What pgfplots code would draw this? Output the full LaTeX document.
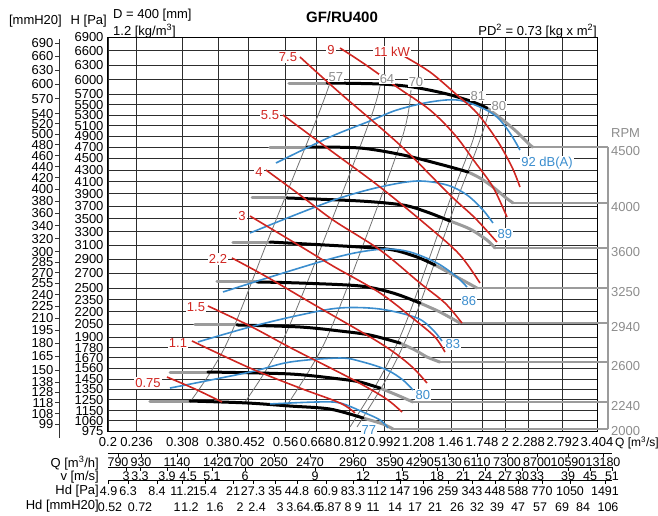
\documentclass[border=0pt]{standalone}
\usepackage{fontspec}
\setmainfont{Liberation Sans}
\usepackage{pgfplots}
\pgfplotsset{compat=1.18}
\definecolor{redc}{RGB}{208,38,33}
\definecolor{bluec}{RGB}{58,141,206}
\definecolor{greyc}{RGB}{155,155,155}
\definecolor{thing}{RGB}{115,115,115}
\definecolor{gridc}{RGB}{45,45,45}
\definecolor{greytxt}{RGB}{140,140,140}
\pgfplotsset{/pgf/number format/assume math mode=true}
\pgfplotsset{
  sqrty/.style={y coord trafo/.code={\pgfmathparse{sqrt(##1)}},
                y coord inv trafo/.code={\pgfmathparse{(##1)*(##1)}}},
  fanb/.style={black, line width=3pt, smooth, tension=0.5, line cap=round},
  fang/.style={greyc, line width=3pt, smooth, tension=0.5, line cap=round},
  fanf/.style={greyc, line width=2.3pt},
  redl/.style={redc, line width=1.6pt, smooth, tension=0.55},
  bluel/.style={bluec, line width=1.6pt, smooth, tension=0.55},
  thinl/.style={thing, line width=0.8pt, smooth, tension=0.55},
}
\tikzset{rlab/.style={text=redc, fill=white, inner sep=1pt, font=\fontsize{13}{13}\selectfont},
  blab/.style={text=bluec, fill=white, inner sep=1pt, font=\fontsize{13}{13}\selectfont},
  glab/.style={text=greytxt, fill=white, inner sep=0.6pt, font=\fontsize{13}{13}\selectfont},
  plab/.style={text=greytxt, anchor=west, inner sep=0pt, font=\fontsize{13}{13}\selectfont}}
\begin{document}
\fontsize{13}{15}\selectfont
\begin{tikzpicture}[x=1pt,y=1pt]
\useasboundingbox (0,0) rectangle (658,-515);
% left mmH2O axis
\begin{axis}[at={(59pt,-438pt)}, anchor=south west, scale only axis, width=10pt, height=399pt,
  sqrty, ymin=87.4, ymax=699, xmin=0, xmax=1,
  axis y line=left, axis x line=none,
  axis line style={-, black!80, line width=0.9pt},
  ytick align=outside, major tick length=4pt, ytick style={black!80, line width=0.8pt},
  ytick={99,108,118,128,138,150,165,180,195,210,225,240,255,270,285,300,320,340,360,380,400,420,440,460,480,500,520,540,570,600,630,660,690},
  yticklabels={99,108,118,128,138,150,165,180,195,210,225,240,255,270,285,300,320,340,360,380,400,420,440,460,480,500,520,540,570,600,630,660,690},
  yticklabel style={font=\fontsize{13}{13}\selectfont, inner sep=1.5pt}]
\addplot[draw=none] coordinates {(0.5,300)};
\end{axis}
% main axis
\begin{axis}[at={(108pt,-431pt)}, anchor=south west, scale only axis, width=489pt, height=394pt,
  xmode=log, xmin=0.2, xmax=3.404, sqrty, ymin=975, ymax=6900,
  xtick={0.2,0.236,0.308,0.38,0.452,0.56,0.668,0.812,0.992,1.208,1.46,1.748,2,2.288,2.792,3.404},
  xticklabels={0.2,0.236,0.308,0.38,0.452,0.56,0.668,0.812,0.992,1.208,1.46,1.748,2,2.288,2.792,3.404},
  minor xtick={},
  ytick={975,1060,1150,1250,1350,1450,1560,1670,1780,1900,2050,2200,2350,2500,2700,2900,3100,3300,3500,3700,3900,4100,4300,4500,4700,4900,5100,5300,5500,5700,6000,6300,6600,6900},
  yticklabels={975,1060,1150,1250,1350,1450,1560,1670,1780,1900,2050,2200,2350,2500,2700,2900,3100,3300,3500,3700,3900,4100,4300,4500,4700,4900,5100,5300,5500,5700,6000,6300,6600,6900},
  grid=major, major grid style={gridc, line width=0.8pt},
  major tick length=0pt,
  tick label style={font=\fontsize{13}{13}\selectfont},
  xticklabel style={yshift=-2pt},
  axis line style={black, line width=1pt},
  clip=false]
% efficiency lines
\addplot[thinl] coordinates {(0.3217,1228) (0.3963,1810) (0.5114,3251) (0.6716,5243) (0.7283,5992)};
\addplot[thinl] coordinates {(0.4424,1228) (0.5483,1844) (0.7075,3251) (0.9130,5205) (0.9675,5871)};
\addplot[thinl] coordinates {(0.5644,1200) (0.7034,1844) (0.8869,3176) (1.1055,4924) (1.1579,5790)};
\addplot[thinl] coordinates {(0.8131,1008) (0.9675,1459) (1.1055,1982) (1.2778,2858) (1.4516,3797) (1.6585,4832) (1.7473,5533)};
\addplot[thinl] coordinates {(0.8468,1008) (1.0076,1459) (1.1512,1982) (1.3307,2858) (1.5117,3797) (1.7272,4832) (1.8303,5435)};
% RPM bracket
\addplot[fanf] coordinates {(3.6267,4705) (3.6267,991.5)};
% fan curves 4500
\addplot[fang] coordinates {(0.571,5931) (0.712,5931)};
\addplot[fang] coordinates {(1.799,5435) (1.973,5205) (2.140,4980) (2.308,4741) (2.348,4705)};
\addplot[fanf] coordinates {(2.348,4705) (3.6267,4705)};
\addplot[fanb] coordinates {(0.712,5931) (0.967,5911) (1.171,5850) (1.427,5710) (1.659,5552) (1.799,5435)};
% 4000
\addplot[fang] coordinates {(0.5114,4705) (0.6337,4705)};
\addplot[fang] coordinates {(1.6112,4265) (1.7272,4162) (1.8624,4011) (1.9965,3846) (2.0912,3749)};
\addplot[fanf] coordinates {(2.0912,3749) (3.6267,3749)};
\addplot[fanb] coordinates {(0.6337,4705) (0.8616,4687) (1.1055,4562) (1.3939,4386) (1.6112,4265)};
% 3600
\addplot[fang] coordinates {(0.4608,3830) (0.5644,3830)};
\addplot[fang] coordinates {(1.4516,3464) (1.6300,3341) (1.7987,3176) (1.8841,3059)};
\addplot[fanf] coordinates {(1.8841,3059) (3.6267,3059)};
\addplot[fanb] coordinates {(0.5644,3830) (0.8616,3781) (1.1055,3716) (1.2704,3605) (1.4516,3464)};
% 3250
\addplot[fang] coordinates {(0.4127,3146) (0.5114,3146)};
\addplot[fang] coordinates {(1.3307,2816) (1.5117,2651) (1.6974,2504)};
\addplot[fanf] coordinates {(1.6974,2504) (3.6267,2504)};
\addplot[fanb] coordinates {(0.5114,3146) (0.8616,3073) (1.0432,3030) (1.1989,2929) (1.3307,2816)};
% 2940
\addplot[fang] coordinates {(0.3762,2584) (0.4743,2584)};
\addplot[fang] coordinates {(1.2199,2310) (1.3698,2198) (1.5382,2064)};
\addplot[fanf] coordinates {(1.5382,2064) (3.6267,2064)};
\addplot[fanb] coordinates {(0.4743,2584) (0.6085,2570) (0.8616,2531) (1.0432,2439) (1.2199,2310)};
% 2600
\addplot[fang] coordinates {(0.3311,2041) (0.4224,2041)};
\addplot[fang] coordinates {(1.0864,1832) (1.1851,1754) (1.2704,1678) (1.3698,1624)};
\addplot[fanf] coordinates {(1.3698,1624) (3.6267,1624)};
\addplot[fanb] coordinates {(0.4224,2041) (0.6085,2017) (0.7673,1970) (0.9130,1923) (1.0864,1832)};
% 2240
\addplot[fang] coordinates {(0.2865,1520) (0.3570,1520)};
\addplot[fang] coordinates {(0.9675,1360) (1.0677,1293) (1.1714,1228)};
\addplot[fanf] coordinates {(1.1714,1228) (3.6267,1228)};
\addplot[fanb] coordinates {(0.3570,1520) (0.5743,1500) (0.7673,1449) (0.8616,1419) (0.9675,1360)};
% 2000
\addplot[fang] coordinates {(0.2551,1237) (0.3217,1237)};
\addplot[fang] coordinates {(0.8767,1085) (0.9845,1033) (1.0432,991.5)};
\addplot[fanf] coordinates {(1.0432,991.5) (3.6267,991.5)};
\addplot[fanb] coordinates {(0.3217,1237) (0.4476,1219) (0.5743,1191) (0.7241,1164) (0.8767,1085)};
% noise curves
\addplot[bluel] coordinates {(0.5295,4421) (0.7241,4887) (0.9130,5186) (1.0677,5397) (1.2927,5552) (1.5117,5592) (1.7272,5455) (1.9060,5262) (2.0552,4961) (2.1778,4651)};
\addplot[bluel] coordinates {(0.4555,3281) (0.6085,3589) (0.7673,3830) (0.9675,4011) (1.1989,4111) (1.4265,4044) (1.6019,3879) (1.7575,3637) (1.8624,3433)};
\addplot[bluel] coordinates {(0.3895,2452) (0.5419,2692) (0.7241,2901) (0.8616,3001) (1.0076,3044) (1.1512,3001) (1.3462,2844) (1.5117,2651) (1.6019,2517)};
\addplot[bluel] coordinates {(0.3369,1844) (0.4555,2017) (0.6085,2161) (0.7673,2248) (0.9675,2235) (1.1989,2125) (1.3154,1982) (1.3858,1855)};
\addplot[bluel] coordinates {(0.2865,1360) (0.4555,1520) (0.5743,1624) (0.7673,1667) (0.8767,1624) (1.0076,1541) (1.1055,1439) (1.1714,1341)};
\addplot[bluel] coordinates {(0.5114,1210) (0.6716,1228) (0.7673,1219) (0.8767,1137) (0.9675,1068) (1.0134,1000)};
% power curves
\addplot[redl] coordinates {(0.2815,1469) (0.3311,1351) (0.3872,1228)};
\addplot[redl] coordinates {(0.3254,1855) (0.4555,1561) (0.6085,1360) (0.7673,1219) (0.8370,1129)};
\addplot[redl] coordinates {(0.3570,2273) (0.4555,2029) (0.5844,1765) (0.8131,1459) (0.9959,1265) (1.0991,1137)};
\addplot[redl] coordinates {(0.4103,2915) (0.5026,2651) (0.6562,2298) (0.9675,1832) (1.1512,1593) (1.2704,1409)};
\addplot[redl] coordinates {(0.4555,3542) (0.6085,3088) (0.7368,2802) (0.9675,2439) (1.1851,2100) (1.3307,1900) (1.4101,1732)};
\addplot[redl] coordinates {(0.4997,4299) (0.6085,3879) (0.7368,3480) (0.9675,3030) (1.2199,2570) (1.4101,2310) (1.5561,2064)};
\addplot[redl] coordinates {(0.5515,5300) (0.7241,4651) (0.9675,4011) (1.2927,3357) (1.5382,2958) (1.7272,2570)};
\addplot[redl] coordinates {(0.6085,6470) (0.7673,5730) (1.0864,4741) (1.4516,3879) (1.6779,3511) (1.9060,3146)};
\addplot[redl] coordinates {(0.7673,6662) (0.8767,6344) (1.0677,5850) (1.2927,5397) (1.4942,4924) (1.6779,4438) (1.8624,4011) (2.0198,3526)};
\addplot[redl] coordinates {(1.0991,6512) (1.2927,6156) (1.5117,5691) (1.6974,5339) (1.9060,4832) (2.0792,4351) (2.1778,4011)};
% labels
\node[rlab] at (axis cs:0.2522,1409) {0.75};
\node[rlab] at (axis cs:0.3001,1832) {1.1};
\node[rlab] at (axis cs:0.3331,2260) {1.5};
\node[rlab] at (axis cs:0.3784,2901) {2.2};
\node[rlab] at (axis cs:0.4348,3542) {3};
\node[rlab] at (axis cs:0.4798,4265) {4};
\node[rlab] at (axis cs:0.5114,5300) {5.5};
\node[rlab] at (axis cs:0.5677,6470) {7.5};
\node[rlab] at (axis cs:0.7283,6619) {9};
\node[rlab] at (axis cs:1.0372,6590) {11 kW};
\node[blab] at (axis cs:2.5467,4421) {92 dB(A)};
\node[blab] at (axis cs:1.9965,3266) {89};
\node[blab] at (axis cs:1.6205,2336) {86};
\node[blab] at (axis cs:1.4770,1821) {83};
\node[blab] at (axis cs:1.2413,1293) {80};
\node[blab] at (axis cs:0.9077,983) {77};
\node[glab] at (axis cs:0.7497,6054) {57};
\node[glab] at (axis cs:1.0076,6013) {64};
\node[glab] at (axis cs:1.1920,5952) {70};
\node[glab] at (axis cs:1.7073,5671) {81};
\node[glab] at (axis cs:1.9283,5474) {80};
\node[plab] at (axis cs:3.69,4961) {RPM};
\node[plab, yshift=-4pt] at (axis cs:3.69,4705) {4500};
\node[plab, yshift=-4pt] at (axis cs:3.69,3749) {4000};
\node[plab, yshift=-4pt] at (axis cs:3.69,3059) {3600};
\node[plab, yshift=-4pt] at (axis cs:3.69,2504) {3250};
\node[plab, yshift=-4pt] at (axis cs:3.69,2064) {2940};
\node[plab, yshift=-4pt] at (axis cs:3.69,1624) {2600};
\node[plab, yshift=-4pt] at (axis cs:3.69,1228) {2240};
\node[plab, yshift=-2pt] at (axis cs:3.69,991.5) {2000};
\end{axis}
% bottom scales
\begin{axis}[at={(108pt,-453pt)}, anchor=south west, scale only axis, width=504pt, height=1pt,
  xmode=log, xmin=0.2, xmax=3.7118, ymin=0, ymax=1,
  hide y axis, axis x line*=bottom, axis line style={black, line width=0.9pt},
  xtick align=outside, major tick length=3.5pt, xtick style={black, line width=0.8pt}, minor xtick={},
  xticklabel style={font=\fontsize{12.5}{13}\selectfont, inner sep=1pt}, clip=false,
  xtick={0.21193,0.24215,0.29833,0.37617,0.42980,0.52342,0.64485,0.82735,1.02522,1.21991,1.43483,1.69743,2.01977,2.40332,2.87632,3.52315},
  xticklabels={790,930,1140,1420,1700,2050,2470,2960,3590,4290,5130,6110,7300,8700,10590,13180}]
\addplot[draw=none] coordinates {(1,0.5)};
\end{axis}
\begin{axis}[at={(108pt,-467pt)}, anchor=south west, scale only axis, width=504pt, height=1pt,
  xmode=log, xmin=0.2, xmax=3.7118, ymin=0, ymax=1,
  hide y axis, axis x line*=bottom, axis line style={black, line width=0.9pt},
  xtick align=outside, major tick length=3.5pt, xtick style={black, line width=0.8pt}, minor xtick={},
  xticklabel style={font=\fontsize{12.5}{13}\selectfont, inner sep=1pt, yshift=-0.5pt}, clip=false,
  xtick={0.22199,0.24075,0.28153,0.31797,0.36542,0.44244,0.66381,0.87672,1.09906,1.34622,1.56515,1.77799,1.99650,2.20321,2.40332,2.87632,3.26745,3.7110},
  xticklabels={3,3.3,3.9,4.5,5.1,6,9,12,15,18,21,24,27,30,33,39,45,51}]
\addplot[draw=none] coordinates {(1,0.5)};
\end{axis}
\begin{axis}[at={(108pt,-480pt)}, anchor=south west, scale only axis, width=504pt, height=1pt,
  xmode=log, xmin=0.2, xmax=3.7118, ymin=0, ymax=1,
  hide y axis, axis x line*=bottom, axis line style={black, line width=0.9pt},
  xtick align=outside, major tick length=3.5pt, xtick style={black, line width=0.8pt}, minor xtick={},
  xticklabel style={font=\fontsize{12.5}{13}\selectfont, inner sep=1pt, yshift=-2pt}, clip=false,
  xtick={0.2006,0.22458,0.26568,0.30710,0.35089,0.41271,0.46344,0.52646,0.59805,0.70751,0.82735,0.95082,1.08639,1.24130,1.43483,1.64895,1.88408,2.15273,2.47398,2.90985,3.56422},
  xticklabels={4.9,6.3,8.4,11.2,15.4,21,27.3,35,44.8,60.9,83.3,112,147,196,259,343,448,588,770,1050,1491}]
\addplot[draw=none] coordinates {(1,0.5)};
\end{axis}
\begin{axis}[at={(108pt,-502pt)}, anchor=south west, scale only axis, width=504pt, height=1pt,
  xmode=log, xmin=0.2, xmax=3.7118, ymin=0, ymax=1,
  hide y axis, axis x line*=bottom, axis line style={draw=none},
  major tick length=0pt, minor xtick={},
  xticklabel style={font=\fontsize{12.5}{13}\selectfont, inner sep=1pt}, clip=false,
  xtick={0.20233,0.24075,0.29833,0.32168,0.37183,0.42980,0.47431,0.54194,0.59116,0.65237,0.70751,0.75847,0.80372,0.85168,0.92903,1.05537,1.18506,1.33070,1.51166,1.69743,1.90604,2.15273,2.44547,2.77802,3.13755,3.62673},
  xticklabels={0.52,0.72,1,1.2,1.6,2,2.4,3,3.6,4.6,5.8,7,8,9,11,14,17,21,26,32,39,47,57,69,84,106}]
\addplot[draw=none] coordinates {(1,0.5)};
\end{axis}
% texts
\node[anchor=west, inner sep=0pt] at (113,-15) {D = 400 [mm]};
\node[anchor=west, inner sep=0pt] at (113,-31) {1.2 [kg/m\textsuperscript{3}]};
\node[inner sep=0pt, font=\fontsize{15}{15}\selectfont\bfseries] at (342,-17) {GF/RU400};
\node[anchor=east, inner sep=0pt] at (597,-31) {PD\textsuperscript{2} = 0.73 [kg x m\textsuperscript{2}]};
\node[anchor=east, inner sep=0pt] at (62,-21) {[mmH20]};
\node[anchor=east, inner sep=0pt] at (107,-21) {H [Pa]};
\node[anchor=west, inner sep=0pt, font=\fontsize{12}{12}\selectfont] at (615,-443) {Q [m\textsuperscript{3}/s]};
\node[anchor=east, inner sep=0pt] at (99,-463) {Q [m\textsuperscript{3}/h]};
\node[anchor=east, inner sep=0pt] at (99,-477) {v [m/s]};
\node[anchor=east, inner sep=0pt] at (99,-491) {Hd [Pa]};
\node[anchor=east, inner sep=0pt] at (99,-506) {Hd [mmH20]};
\end{tikzpicture}
\end{document}
